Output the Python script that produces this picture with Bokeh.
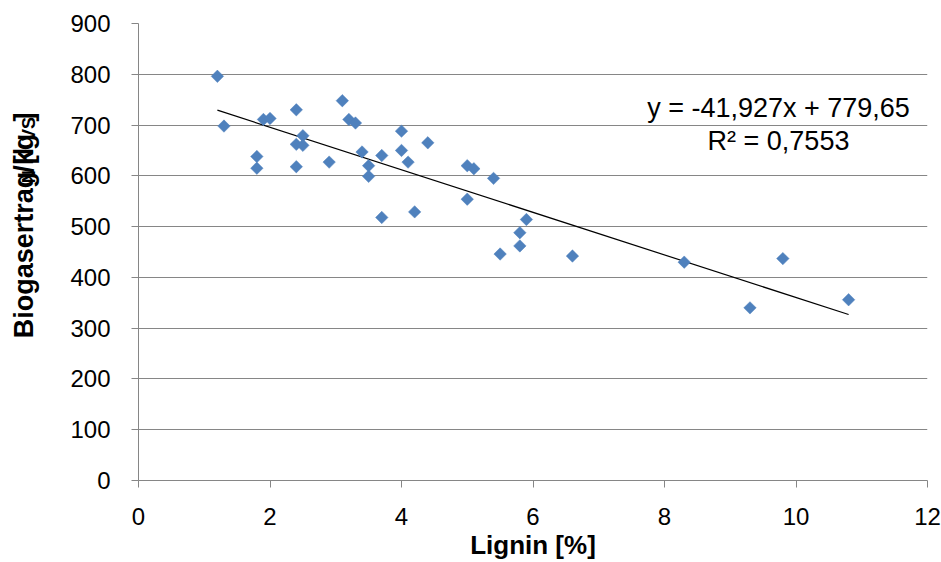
import math
from bokeh.plotting import figure
from bokeh.layouts import row
from bokeh.models import Range1d, Label, FixedTicker
from bokeh.embed import file_html
from bokeh.resources import INLINE

# ---- data ----
lignin = [1.2, 1.3, 1.8, 1.8, 1.9, 2.0, 2.4, 2.4, 2.4, 2.5, 2.5, 2.9, 3.1, 3.2, 3.3,
          3.4, 3.5, 3.5, 3.7, 3.7, 4.0, 4.0, 4.1, 4.2, 4.4, 5.0, 5.1, 5.0, 5.4, 5.5,
          5.8, 5.8, 5.9, 6.6, 8.3, 9.3, 9.8, 10.8]
biogas = [796, 698, 638, 615, 711, 713, 730, 662, 618, 679, 660, 627, 748, 711, 704,
          647, 620, 599, 640, 518, 688, 650, 627, 529, 665, 620, 614, 554, 595, 446,
          488, 462, 514, 442, 430, 340, 437, 356]
slope = -41.927
intercept = 779.65
eq_text = "y = -41,927x + 779,65"
r2_text = "R² = 0,7553"
x_ticks = [0, 2, 4, 6, 8, 10, 12]
y_ticks = [0, 100, 200, 300, 400, 500, 600, 700, 800, 900]
x_title = "Lignin [%]"

# ---- layout (pixel geometry) ----
W, H = 941, 562
LW = 50                        # width of the strip holding the y-axis title
X0_PX, X12_PX = 138, 927       # page x of x=0 and x=12
Y0_PX, Y900_PX = 481, 23       # page y of y=0 and y=900
XMAX, YMAX = 12, 900
px_x = XMAX / (X12_PX - X0_PX)   # data per pixel
px_y = YMAX / (Y0_PX - Y900_PX)

FONT = "Liberation Sans"
GRAY = "#868686"

# ---- strip with the rotated y-axis title (pixel coordinates) ----
t = figure(width=LW, height=H, output_backend="svg", toolbar_location=None,
           x_range=Range1d(0, LW), y_range=Range1d(0, H),
           x_axis_type=None, y_axis_type=None,
           min_border_left=0, min_border_right=0, min_border_top=0, min_border_bottom=0)
t.outline_line_color = None
t.background_fill_color = "white"
t.border_fill_color = "white"

fs_main, fs_sub = 27, 18
pieces = [("Biogasertrag [l", False, 7.057), ("N", True, 0.722), ("/kg", False, 1.445),
          ("VS", True, 1.334), ("]", False, 0.333)]
pos = H - 387.0   # start of the text, measured from the bottom
for txt, sub, em in pieces:
    fs = fs_sub if sub else fs_main
    t.add_layout(Label(x=23, y=pos, text=txt, angle=math.pi / 2,
                       text_font=FONT, text_font_size=f"{fs}px", text_font_style="bold",
                       text_align="left", text_baseline="alphabetic", text_color="black",
                       x_offset=5 if sub else 0))
    pos += em * fs

# ---- main chart ----
p = figure(width=W - LW, height=H, output_backend="svg", toolbar_location=None,
           x_range=Range1d(0, XMAX), y_range=Range1d(0, YMAX),
           min_border_left=X0_PX - LW, min_border_right=W - X12_PX,
           min_border_top=Y900_PX, min_border_bottom=H - Y0_PX)
p.outline_line_color = None
p.background_fill_color = "white"
p.border_fill_color = "white"

p.xgrid.grid_line_color = None
p.ygrid.ticker = FixedTicker(ticks=list(y_ticks))
p.ygrid.grid_line_color = GRAY
p.ygrid.grid_line_width = 1

for ax, ticks in ((p.xaxis[0], x_ticks), (p.yaxis[0], y_ticks)):
    ax.ticker = FixedTicker(ticks=list(ticks))
    ax.axis_line_color = GRAY
    ax.major_tick_line_color = GRAY
    ax.major_tick_out = 7
    ax.major_tick_in = 0
    ax.minor_tick_line_color = None
    ax.major_label_text_font = FONT
    ax.major_label_text_font_size = "24px"
    ax.major_label_text_color = "black"

p.xaxis.major_label_standoff = 20
p.yaxis.major_label_standoff = 21

p.xaxis.axis_label = x_title
p.xaxis.axis_label_text_font = FONT
p.xaxis.axis_label_text_font_size = "26px"
p.xaxis.axis_label_text_font_style = "bold"
p.xaxis.axis_label_text_color = "black"
p.xaxis.axis_label_standoff = 2

# trend line from the equation over the data range
xs_t = [min(lignin), max(lignin)]
ys_t = [slope * v + intercept for v in xs_t]
p.line(xs_t, ys_t, line_color="black", line_width=1.2)

p.scatter(lignin, biogas, marker="square", size=8.8, angle=math.pi / 4,
          fill_color="#4F81BD", line_color="#4F81BD", line_width=0.5)

# equation labels
eq_x = (778 - X0_PX) * px_x
for txt, base_px in ((eq_text, 108), (r2_text, 141)):
    p.add_layout(Label(x=eq_x, y=(Y0_PX - base_px) * px_y, text=txt, text_font=FONT,
                       text_font_size="27px", text_align="center",
                       text_baseline="alphabetic", text_color="black"))

layout = row(t, p)
open("out.html", "w").write(file_html(layout, INLINE))
